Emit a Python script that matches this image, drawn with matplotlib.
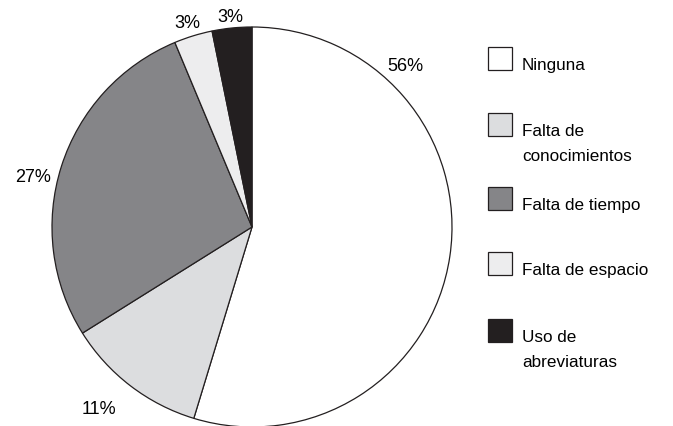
import matplotlib.pyplot as plt
from matplotlib.patches import Rectangle

plt.rcParams['font.family'] = ['Liberation Sans', 'DejaVu Sans']

# data (slice shares as drawn in the picture; labels as printed)
categories = ["Ninguna", "Falta de\nconocimientos", "Falta de tiempo",
              "Falta de espacio", "Uso de\nabreviaturas"]
values = [54.7, 11.4, 27.6, 3.1, 3.2]
pct_labels = ["56%", "11%", "27%", "3%", "3%"]
colors = ["#ffffff", "#dcdddf", "#858588", "#ededee", "#231f20"]

# label placement (pixels from top-left, text baseline)
label_pos = [(405.5, 71), (98.5, 414), (33, 182), (187, 28), (230, 22)]
legend_y = [59.5, 125.5, 199.5, 264, 331.5]

W, H = 673, 427
fig = plt.figure(figsize=(W / 100, H / 100), dpi=100)
ax = fig.add_axes([0, 0, 1, 1])

ax.pie(values, colors=colors, startangle=90, counterclock=False,
       center=(252, H - 228), radius=200,
       wedgeprops=dict(edgecolor="#231f20", linewidth=0.9))

# pie() resets the view, so fix limits afterwards
ax.set_xlim(0, W)
ax.set_ylim(0, H)
ax.set_aspect('equal')
ax.axis('off')

for lab, (x, y) in zip(pct_labels, label_pos):
    ax.text(x, H - y, lab, ha='center', va='baseline', fontsize=13)

# legend drawn by hand
for name, col, yc in zip(categories, colors, legend_y):
    ax.add_patch(Rectangle((487.5, H - yc - 11.5), 24, 23, facecolor=col,
                           edgecolor="#231f20", linewidth=0.9))
    for i, line in enumerate(name.split("\n")):
        ax.text(522, H - (yc + 10.5 + 25 * i), line, ha='left',
                va='baseline', fontsize=12.3)

fig.savefig("out.png", dpi=100)
